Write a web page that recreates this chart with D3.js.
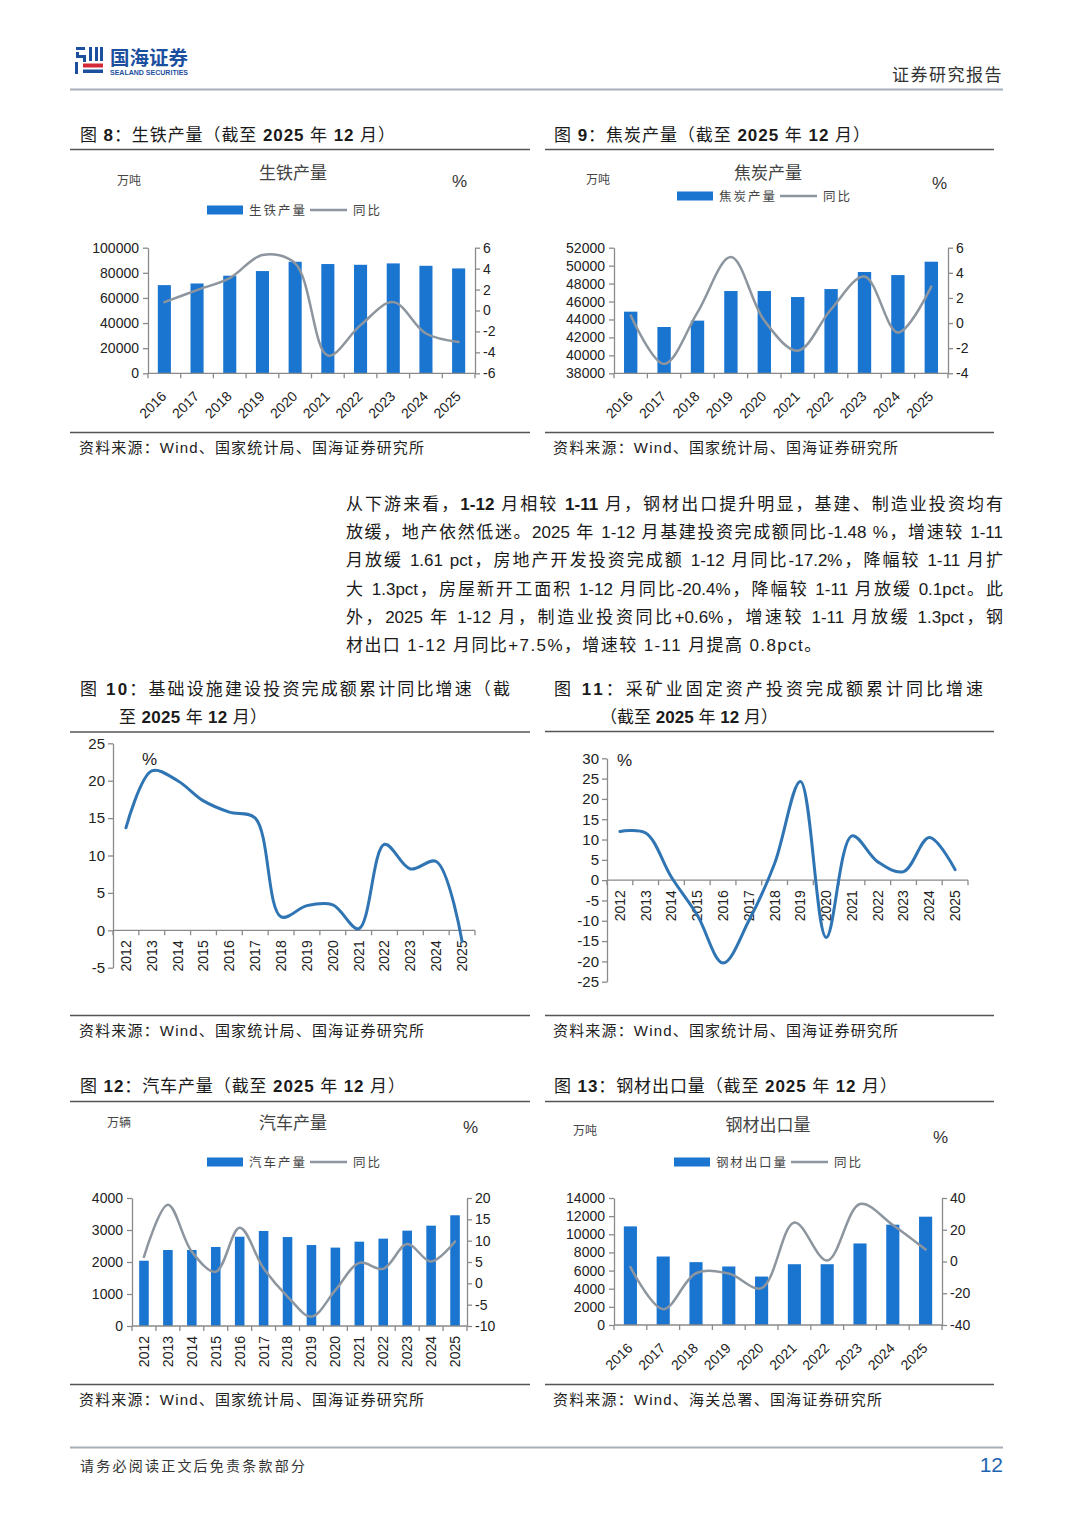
<!DOCTYPE html>
<html>
<head>
<meta charset="utf-8">
<script src="https://cdn.jsdelivr.net/npm/d3@7"></script>
<style>
  html, body { margin: 0; padding: 0; background: #fff; }
  #page { position: relative; width: 1080px; height: 1527px; overflow: hidden; }
  #page svg { position: absolute; left: 0; top: 0; }
  .para { position: absolute; left: 346px; top: 491px; width: 657px;
          font-family: "Liberation Sans", Arial, "Noto Sans CJK SC", sans-serif;
          font-size: 17px; line-height: 28.2px; color: #1a1a1a; }
  .para div { text-align: justify; text-align-last: justify; white-space: nowrap; }
  .para div.last { text-align-last: left; letter-spacing: 1.4px; }
</style>
</head>
<body>
<div id="page"></div>
<script>
// ---------------- DATA ----------------
const yearsA = ["2016","2017","2018","2019","2020","2021","2022","2023","2024","2025"];
const yearsB = ["2012","2013","2014","2015","2016","2017","2018","2019","2020","2021","2022","2023","2024","2025"];

const pigIron     = [70200, 71500, 77700, 81400, 88800, 87000, 86400, 87500, 85600, 83500];
const pigIronYoY  = [0.8, 1.95, 3.1, 5.3, 4.5, -4.3, -1.4, 0.8, -2.2, -3.0];

const coke        = [44870, 43160, 43870, 47170, 47170, 46500, 47390, 49290, 48950, 50440];
const cokeYoY     = [0.6, -3.25, 0.85, 5.26, 0.2, -2.2, 1.1, 3.7, -0.75, 2.9];

const infraYoY    = [13.7, 21.3, 20.0, 17.3, 15.8, 15.0, 1.8, 3.3, 3.4, 0.2, 11.5, 8.2, 9.2, -1.48];
const miningYoY   = [12.0, 11.6, 0.7, -8.6, -20.4, -10.0, 4.1, 24.3, -14.1, 10.9, 4.5, 2.1, 10.5, 2.6];

const autos       = [2040, 2375, 2375, 2470, 2790, 2970, 2780, 2530, 2450, 2635, 2730, 2980, 3135, 3460];
const autosYoY    = [6.2, 18.4, 7.4, 2.7, 13.0, 3.5, -3.1, -7.8, -1.6, 4.8, 3.4, 9.2, 5.1, 9.8];

const steelExp    = [10870, 7550, 6930, 6450, 5340, 6700, 6700, 8990, 11060, 11940];
const steelExpYoY = [-3.5, -30.0, -7.4, -7.6, -16.8, 24.6, 0.6, 36.2, 23.0, 7.5];

const ticksPigL   = [0, 20000, 40000, 60000, 80000, 100000];
const ticksPigR   = [-6, -4, -2, 0, 2, 4, 6];
const ticksCokeL  = [38000, 40000, 42000, 44000, 46000, 48000, 50000, 52000];
const ticksCokeR  = [-4, -2, 0, 2, 4, 6];
const ticksInfra  = [-5, 0, 5, 10, 15, 20, 25];
const ticksMining = [-25, -20, -15, -10, -5, 0, 5, 10, 15, 20, 25, 30];
const ticksAutoL  = [0, 1000, 2000, 3000, 4000];
const ticksAutoR  = [-10, -5, 0, 5, 10, 15, 20];
const ticksSteelL = [0, 2000, 4000, 6000, 8000, 10000, 12000, 14000];
const ticksSteelR = [-40, -20, 0, 20, 40];

// ---------------- STYLE ----------------
const BAR = "#1a75d0";
const GREY_LINE = "#8d959e";
const BLUE_LINE = "#2f74b3";
const AXIS = "#8a8a8a";
const LAT = '"Liberation Sans", Arial, "Noto Sans CJK SC", sans-serif';
const CJK = '"Noto Sans CJK SC", "Liberation Sans", sans-serif';

const svg = d3.select("#page").append("svg").attr("width", 1080).attr("height", 1527);
const fmt = d => String(d);

// ---------------- HEADER ----------------
const logo = svg.append("g");
const LB = "#1d4f9f", LR = "#d3283a";
[[76,47,9,3],[76,52,3,6],[79,55,7,3],[83,58,3,4],[75,62,3,12],[89,47,3,14],[95,47,3,14],[83,69.5,20,3.5],[100,47,3,14]]
  .forEach(r => logo.append("rect").attr("x", r[0]).attr("y", r[1]).attr("width", r[2]).attr("height", r[3]).attr("fill", LB));
logo.append("rect").attr("x", 83).attr("y", 63.5).attr("width", 20).attr("height", 4).attr("fill", LR);
svg.append("text").attr("x", 110).attr("y", 65).attr("font-family", CJK).attr("font-weight", "bold")
  .attr("font-size", 19).attr("fill", LB).attr("textLength", 78).attr("lengthAdjust", "spacingAndGlyphs").text("国海证券");
svg.append("text").attr("x", 110).attr("y", 74.5).attr("font-family", LAT).attr("font-weight", "bold")
  .attr("font-size", 7).attr("fill", LB).attr("textLength", 78).attr("lengthAdjust", "spacingAndGlyphs").text("SEALAND SECURITIES");
svg.append("text").attr("x", 1003).attr("y", 81).attr("text-anchor", "end").attr("font-family", CJK)
  .attr("font-size", 17).attr("fill", "#333").attr("letter-spacing", 1.5).text("证券研究报告");
svg.append("line").attr("x1", 70).attr("x2", 1003).attr("y1", 89.5).attr("y2", 89.5).attr("stroke", "#a6afba").attr("stroke-width", 2);

// ---------------- FOOTER ----------------
svg.append("line").attr("x1", 70).attr("x2", 1003).attr("y1", 1447.5).attr("y2", 1447.5).attr("stroke", "#a6afba").attr("stroke-width", 2);
svg.append("text").attr("x", 80).attr("y", 1471).attr("font-family", CJK).attr("font-size", 14).attr("fill", "#333")
  .attr("textLength", 225).attr("lengthAdjust", "spacing").text("请务必阅读正文后免责条款部分");
svg.append("text").attr("x", 1003).attr("y", 1472).attr("text-anchor", "end").attr("font-family", LAT)
  .attr("font-size", 21).attr("fill", "#2064b0").text("12");

// ---------------- HELPERS ----------------
function figTitle(x, y, parts, width) {
  const t = svg.append("text").attr("x", x).attr("y", y).attr("font-family", LAT)
    .attr("font-size", 17).attr("fill", "#1a1a1a");
  if (width) t.attr("textLength", width).attr("lengthAdjust", "spacing");
  parts.forEach(p => t.append("tspan").attr("font-weight", p[1] ? "bold" : "normal").text(p[0]));
}
function rule(x1, x2, y) {
  svg.append("line").attr("x1", x1).attr("x2", x2).attr("y1", y).attr("y2", y).attr("stroke", "#555").attr("stroke-width", 1.5);
}
function source(x, y, txt, width) {
  svg.append("text").attr("x", x).attr("y", y).attr("font-family", LAT).attr("font-size", 15).attr("fill", "#222")
    .attr("textLength", width).attr("lengthAdjust", "spacing").text(txt);
}
function styleAxis(sel) {
  sel.select(".domain").attr("stroke", AXIS).attr("stroke-width", 1.3);
  sel.selectAll(".tick line").attr("stroke", AXIS).attr("stroke-width", 1.3);
  sel.selectAll(".tick text").attr("fill", "#222").attr("font-family", LAT).attr("font-size", 14);
}
function xBandAxis(g, x, y, cats, rot, x0, x1) {
  g.append("line").attr("x1", x0).attr("x2", x1).attr("y1", y).attr("y2", y).attr("stroke", AXIS).attr("stroke-width", 1.3);
  const bounds = cats.map(c => x(c)).concat([x(cats[cats.length - 1]) + x.bandwidth()]);
  g.selectAll("line.bt").data(bounds).join("line").attr("class", "bt")
    .attr("x1", d => d).attr("x2", d => d).attr("y1", y).attr("y2", y + 5).attr("stroke", AXIS).attr("stroke-width", 1.3);
  const lab = g.selectAll("text.xl").data(cats).join("text").attr("class", "xl")
    .attr("font-family", LAT).attr("font-size", 14).attr("fill", "#222").attr("text-anchor", "end").text(d => d);
  if (rot === -45) {
    lab.attr("transform", d => `translate(${x(d) + x.bandwidth() / 2 + 3},${y + 24}) rotate(-45)`);
  } else {
    lab.attr("dy", "0.35em").attr("transform", d => `translate(${x(d) + x.bandwidth() / 2},${y + 10}) rotate(-90)`);
  }
}
function chartHead(cfg) {
  svg.append("text").attr("x", cfg.unitX).attr("y", cfg.unitY).attr("font-family", CJK).attr("font-size", 12)
    .attr("fill", "#444").text(cfg.unit);
  svg.append("text").attr("x", cfg.titleX).attr("y", cfg.titleY).attr("text-anchor", "middle").attr("font-family", CJK)
    .attr("font-size", 17).attr("fill", "#444").text(cfg.title);
  svg.append("text").attr("x", cfg.pctX).attr("y", cfg.pctY).attr("font-family", LAT).attr("font-size", 17)
    .attr("fill", "#333").text("%");
  const ly = cfg.legY;
  svg.append("rect").attr("x", cfg.legX).attr("y", ly - 4.5).attr("width", 36).attr("height", 9).attr("fill", BAR);
  svg.append("text").attr("x", cfg.legX + 42).attr("y", ly + 4.5).attr("font-family", CJK).attr("font-size", 12.5)
    .attr("fill", "#444").attr("textLength", cfg.legW).attr("lengthAdjust", "spacing").text(cfg.legName);
  const lx = cfg.legX + 42 + cfg.legW + 5;
  svg.append("line").attr("x1", lx).attr("x2", lx + 37).attr("y1", ly).attr("y2", ly).attr("stroke", GREY_LINE).attr("stroke-width", 2.5);
  svg.append("text").attr("x", lx + 43).attr("y", ly + 4.5).attr("font-family", CJK).attr("font-size", 12.5)
    .attr("fill", "#444").attr("textLength", 27).attr("lengthAdjust", "spacing").text("同比");
}
function combo(cfg) {
  const g = svg.append("g");
  const x = d3.scaleBand().domain(cfg.cats).range([cfg.x0, cfg.x1]);
  const yL = d3.scaleLinear().domain(cfg.lDom).range([cfg.yBot, cfg.yTop]);
  const yR = d3.scaleLinear().domain(cfg.rDom).range([cfg.yBot, cfg.yTop]);
  g.selectAll("rect.bar").data(cfg.bars).join("rect").attr("class", "bar")
    .attr("x", (d, i) => x(cfg.cats[i]) + x.bandwidth() * 0.3)
    .attr("width", x.bandwidth() * 0.4)
    .attr("y", d => yL(d))
    .attr("height", d => yL(cfg.lDom[0]) - yL(d))
    .attr("fill", BAR);
  const line = d3.line()
    .x((d, i) => x(cfg.cats[i]) + x.bandwidth() / 2)
    .y(d => yR(d))
    .curve(d3.curveCatmullRom.alpha(0.5));
  g.append("path").datum(cfg.yoy).attr("d", line).attr("fill", "none").attr("stroke", GREY_LINE)
    .attr("stroke-width", 2.5).attr("stroke-linejoin", "round").attr("stroke-linecap", "round");
  const aL = g.append("g").attr("transform", `translate(${cfg.x0},0)`)
    .call(d3.axisLeft(yL).tickValues(cfg.lTicks).tickSize(5).tickSizeOuter(0).tickPadding(4).tickFormat(fmt));
  styleAxis(aL);
  const aR = g.append("g").attr("transform", `translate(${cfg.x1},0)`)
    .call(d3.axisRight(yR).tickValues(cfg.rTicks).tickSize(5).tickSizeOuter(0).tickPadding(3).tickFormat(fmt));
  styleAxis(aR);
  xBandAxis(g, x, cfg.yBot, cfg.cats, cfg.rot, cfg.x0, cfg.x1);
}
function lineChart(cfg) {
  const g = svg.append("g");
  const x = d3.scaleBand().domain(cfg.cats).range([cfg.x0, cfg.x1]);
  const y = d3.scaleLinear().domain(cfg.dom).range([cfg.yBot, cfg.yTop]);
  const aL = g.append("g").attr("transform", `translate(${cfg.x0},0)`)
    .call(d3.axisLeft(y).tickValues(cfg.ticks).tickSize(5).tickSizeOuter(0).tickPadding(3).tickFormat(fmt));
  styleAxis(aL);
  aL.selectAll(".tick text").attr("font-size", 15);
  xBandAxis(g, x, y(0), cfg.cats, -90, cfg.x0, cfg.x1);
  const line = d3.line()
    .x((d, i) => x(cfg.cats[i]) + x.bandwidth() / 2)
    .y(d => y(d))
    .curve(d3.curveCatmullRom.alpha(0.5));
  g.append("path").datum(cfg.vals).attr("d", line).attr("fill", "none").attr("stroke", BLUE_LINE)
    .attr("stroke-width", 3).attr("stroke-linejoin", "round").attr("stroke-linecap", "round");
  g.append("text").attr("x", cfg.pctX).attr("y", cfg.pctY).attr("font-family", LAT).attr("font-size", 17)
    .attr("fill", "#222").text("%");
}

// ---------------- FIGURE 8 ----------------
figTitle(80, 141, [["图 ",0],["8",1],["：生铁产量（截至 ",0],["2025",1],[" 年 ",0],["12",1],[" 月）",0]], 315);
rule(70, 530, 149.5);
chartHead({unit:"万吨", unitX:117, unitY:185, title:"生铁产量", titleX:293, titleY:179, pctX:452, pctY:187,
  legX:207, legY:210, legName:"生铁产量", legW:56});
combo({cats:yearsA, bars:pigIron, yoy:pigIronYoY, x0:148, x1:475, yTop:247.7, yBot:373.3,
  lDom:[0,100000], rDom:[-6,6], lTicks:ticksPigL, rTicks:ticksPigR, rot:-45});
rule(70, 530, 432.5);
source(79, 453, "资料来源：Wind、国家统计局、国海证券研究所", 345);

// ---------------- FIGURE 9 ----------------
figTitle(554, 141, [["图 ",0],["9",1],["：焦炭产量（截至 ",0],["2025",1],[" 年 ",0],["12",1],[" 月）",0]], 316);
rule(545, 994, 149.5);
chartHead({unit:"万吨", unitX:586, unitY:184, title:"焦炭产量", titleX:768, titleY:179, pctX:932, pctY:189,
  legX:677, legY:196, legName:"焦炭产量", legW:56});
combo({cats:yearsA, bars:coke, yoy:cokeYoY, x0:614, x1:948, yTop:247.7, yBot:373.3,
  lDom:[38000,52000], rDom:[-4,6], lTicks:ticksCokeL, rTicks:ticksCokeR, rot:-45});
rule(545, 994, 432.5);
source(553, 453, "资料来源：Wind、国家统计局、国海证券研究所", 345);

// ---------------- FIGURE 10 ----------------
figTitle(80, 695, [["图 ",0],["10",1],["：基础设施建设投资完成额累计同比增速（截",0]], 430);
figTitle(119, 723, [["至 ",0],["2025",1],[" 年 ",0],["12",1],[" 月）",0]], 148);
rule(70, 530, 732);
lineChart({cats:yearsB, vals:infraYoY, x0:113, x1:475, yTop:743.3, yBot:967.7, dom:[-5,25], ticks:ticksInfra,
  pctX:142, pctY:765});
rule(70, 530, 1015.5);
source(79, 1036, "资料来源：Wind、国家统计局、国海证券研究所", 345);

// ---------------- FIGURE 11 ----------------
figTitle(554, 695, [["图 ",0],["11",1],["：采矿业固定资产投资完成额累计同比增速",0]], 429);
figTitle(600, 723, [["（截至 ",0],["2025",1],[" 年 ",0],["12",1],[" 月）",0]], 178);
rule(545, 994, 731.5);
lineChart({cats:yearsB, vals:miningYoY, x0:607, x1:968, yTop:758.3, yBot:981.7, dom:[-25,30], ticks:ticksMining,
  pctX:617, pctY:766});
rule(545, 994, 1015.5);
source(553, 1036, "资料来源：Wind、国家统计局、国海证券研究所", 345);

// ---------------- FIGURE 12 ----------------
figTitle(80, 1092, [["图 ",0],["12",1],["：汽车产量（截至 ",0],["2025",1],[" 年 ",0],["12",1],[" 月）",0]], 325);
rule(70, 530, 1101.5);
chartHead({unit:"万辆", unitX:107, unitY:1127, title:"汽车产量", titleX:293, titleY:1129, pctX:463, pctY:1133,
  legX:207, legY:1162, legName:"汽车产量", legW:56});
combo({cats:yearsB, bars:autos, yoy:autosYoY, x0:132, x1:467, yTop:1198, yBot:1326,
  lDom:[0,4000], rDom:[-10,20], lTicks:ticksAutoL, rTicks:ticksAutoR, rot:-90});
rule(70, 530, 1384.5);
source(79, 1405, "资料来源：Wind、国家统计局、国海证券研究所", 345);

// ---------------- FIGURE 13 ----------------
figTitle(554, 1092, [["图 ",0],["13",1],["：钢材出口量（截至 ",0],["2025",1],[" 年 ",0],["12",1],[" 月）",0]], 343);
rule(545, 994, 1101.5);
chartHead({unit:"万吨", unitX:573, unitY:1135, title:"钢材出口量", titleX:768, titleY:1131, pctX:933, pctY:1143,
  legX:674, legY:1162, legName:"钢材出口量", legW:70});
combo({cats:yearsA, bars:steelExp, yoy:steelExpYoY, x0:614, x1:942, yTop:1198, yBot:1325,
  lDom:[0,14000], rDom:[-40,40], lTicks:ticksSteelL, rTicks:ticksSteelR, rot:-45});
rule(545, 994, 1384.5);
source(553, 1405, "资料来源：Wind、海关总署、国海证券研究所", 329);

// ---------------- PARAGRAPH ----------------
const paraLines = [
  '从下游来看，<b>1-12</b> 月相较 <b>1-11</b> 月，钢材出口提升明显，基建、制造业投资均有',
  '放缓，地产依然低迷。2025 年 1-12 月基建投资完成额同比-1.48 %，增速较 1-11',
  '月放缓 1.61 pct，房地产开发投资完成额 1-12 月同比-17.2%，降幅较 1-11 月扩',
  '大 1.3pct，房屋新开工面积 1-12 月同比-20.4%，降幅较 1-11 月放缓 0.1pct。此',
  '外，2025 年 1-12 月，制造业投资同比+0.6%，增速较 1-11 月放缓 1.3pct，钢',
  '材出口 1-12 月同比+7.5%，增速较 1-11 月提高 0.8pct。'
];
const para = d3.select("#page").append("div").attr("class", "para");
para.selectAll("div").data(paraLines).join("div")
  .attr("class", (d, i) => i === paraLines.length - 1 ? "last" : null)
  .html(d => d);
</script>
</body>
</html>
